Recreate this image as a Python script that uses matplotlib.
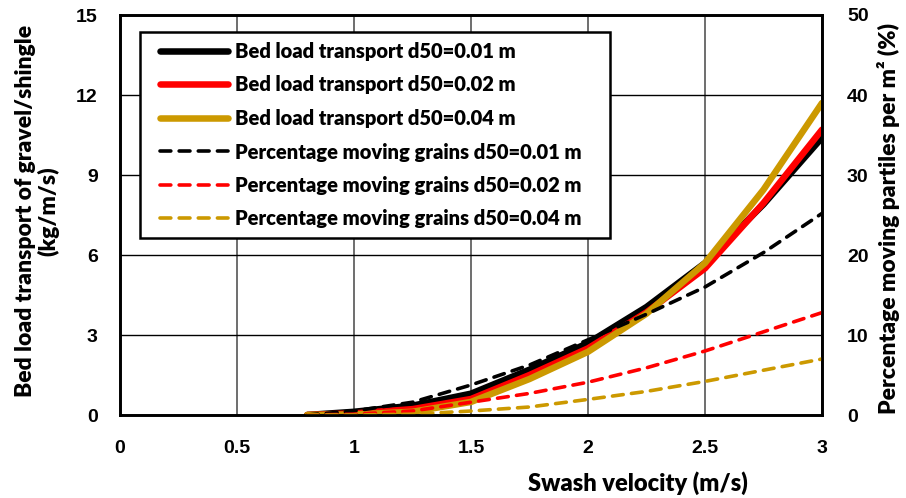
import matplotlib
matplotlib.use("Agg")
import matplotlib.pyplot as plt
from matplotlib.patches import Rectangle

# swash velocity (m/s)
velocity = [0.8, 1.0, 1.25, 1.5, 1.75, 2.0, 2.25, 2.5, 2.75, 3.0]

# bed load transport (kg/m/s), left axis
load_001 = [0.0, 0.12, 0.35, 0.8, 1.7, 2.7, 4.05, 5.7, 7.9, 10.4]
load_002 = [0.0, 0.06, 0.22, 0.6, 1.5, 2.5, 3.85, 5.5, 7.95, 10.7]
load_004 = [0.0, 0.02, 0.12, 0.49, 1.35, 2.37, 3.8, 5.7, 8.45, 11.7]

# percentage moving grains (%), right axis
pct_001 = [0.0, 0.5, 1.6, 3.75, 6.25, 9.4, 12.6, 16.0, 20.3, 25.2]
pct_002 = [0.0, 0.1, 0.5, 1.6, 2.7, 4.1, 5.9, 8.0, 10.4, 12.8]
pct_004 = [0.0, 0.0, 0.1, 0.5, 1.0, 1.95, 2.95, 4.2, 5.6, 7.0]

labels_solid = ["Bed load transport d50=0.01 m",
                "Bed load transport d50=0.02 m",
                "Bed load transport d50=0.04 m"]
labels_dash = ["Percentage moving grains d50=0.01 m",
               "Percentage moving grains d50=0.02 m",
               "Percentage moving grains d50=0.04 m"]
colors = ["#000000", "#FF0000", "#CC9900"]

label_font = "Lato"
tick_font = "Liberation Sans"

fig = plt.figure(figsize=(9.06, 4.98), dpi=100)
ax = fig.add_axes([120/906, 83/498, 702/906, 400/498])
ax2 = ax.twinx()

handles = []
for ys, c, lab in zip([load_001, load_002, load_004], colors, labels_solid):
    h, = ax.plot(velocity, ys, color=c, lw=4.7, solid_capstyle="round",
                 solid_joinstyle="round", label=lab)
    handles.append(h)
for ys, c, lab in zip([pct_001, pct_002, pct_004], colors, labels_dash):
    h, = ax2.plot(velocity, ys, color=c, lw=2.6, dashes=(3.0, 2.3),
                  dash_capstyle="round", label=lab)
    handles.append(h)

ax.set_xlim(0, 3)
ax.set_ylim(0, 15)
ax2.set_ylim(0, 50)
ax.set_xticks([0, 0.5, 1, 1.5, 2, 2.5, 3])
ax.set_xticklabels(["0", "0.5", "1", "1.5", "2", "2.5", "3"])
ax.set_yticks([0, 3, 6, 9, 12, 15])
ax2.set_yticks([0, 10, 20, 30, 40, 50])

# grid: horizontal black, vertical dark grey
ax.yaxis.grid(True, color="black", lw=1.0)
ax.xaxis.grid(True, color="#555555", lw=1.2)
ax.set_axisbelow(True)

for a in (ax, ax2):
    for s in a.spines.values():
        s.set_linewidth(1.9)
        s.set_color("black")
    a.tick_params(length=0, labelsize=14)
    for t in a.get_xticklabels() + a.get_yticklabels():
        t.set_fontfamily(tick_font)
        t.set_fontweight("bold")
ax.tick_params(axis="x", pad=18)
ax.tick_params(axis="y", pad=16)
ax2.tick_params(axis="y", pad=18)

fig.text(37/906, 1 - 211/498, "Bed load transport of gravel/shingle\n(kg/m/s)",
         rotation=90, ha="center", va="center", fontsize=16.5, fontweight="heavy",
         family=label_font, linespacing=1.05)
fig.text(889/906, 1 - 218/498, "Percentage moving partiles per m\u00b2 (%)",
         rotation=90, ha="center", va="center", fontsize=16.5, fontweight="heavy",
         family=label_font)
fig.text(638/906, 1 - 483/498, "Swash velocity (m/s)",
         ha="center", va="center", fontsize=17, fontweight="heavy",
         family=label_font)

# legend frame drawn separately so the side padding can be wider than the top
box = Rectangle((20/702, (415 - 238)/400), 470/702, 206/400,
                transform=ax2.transAxes, facecolor="white", edgecolor="black",
                lw=1.8, zorder=5)
ax2.add_patch(box)
leg = ax2.legend(handles=handles, loc="upper left",
                 bbox_to_anchor=(40/702, (415 - 42)/400), borderaxespad=0,
                 prop={"family": label_font, "weight": "heavy", "size": 14.5},
                 handlelength=3.4, handletextpad=0.3, labelspacing=0.72,
                 borderpad=0, frameon=False)
leg.set_zorder(6)

fig.savefig("out.png", dpi=100)
